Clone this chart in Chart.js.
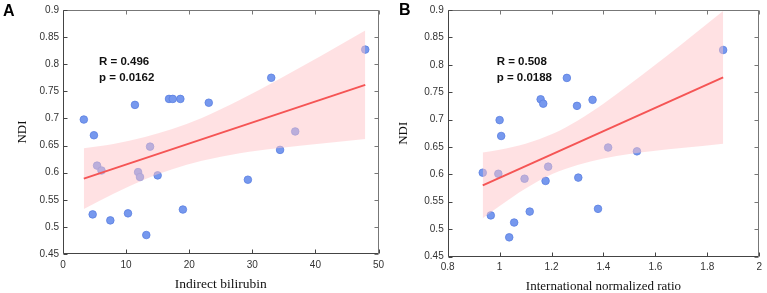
<!DOCTYPE html>
<html>
<head>
<meta charset="utf-8">
<script src="https://cdn.jsdelivr.net/npm/chart.js"></script>
<style>
html, body { margin: 0; padding: 0; background: #fff; overflow: hidden; }
#chartA { position: absolute; left: 0; top: 0; }
#chartB { position: absolute; left: 380px; top: 0; }
</style>
</head>
<body>
<canvas id="chartA" width="390" height="293"></canvas>
<canvas id="chartB" width="387" height="293"></canvas>
<script>
// panel A: indirect bilirubin vs NDI
const bilirubin = [3.3, 4.7, 4.9, 5.4, 6.1, 7.5, 10.3, 11.4, 11.9, 12.2, 13.2, 13.8, 15.0, 16.8, 17.4, 18.6, 19.0, 23.1, 29.3, 33.0, 34.4, 36.8, 47.9];
const ndiA = [0.698, 0.523, 0.669, 0.613, 0.604, 0.512, 0.525, 0.725, 0.601, 0.592, 0.485, 0.648, 0.595, 0.736, 0.736, 0.736, 0.532, 0.729, 0.587, 0.775, 0.642, 0.676, 0.827];
const fitA_x = [3.3, 47.9];
const fitA_y = [0.589, 0.762];
const bandA_x = [3.3, 8, 13, 17.2, 22, 28, 34, 41, 47.9];
const bandA_hi = [0.645, 0.653, 0.666, 0.680, 0.701, 0.734, 0.771, 0.816, 0.862];
const bandA_lo = [0.533, 0.561, 0.588, 0.606, 0.622, 0.636, 0.645, 0.654, 0.662];

// panel B: INR vs NDI
const inr = [0.935, 0.966, 0.995, 1.000, 1.006, 1.037, 1.056, 1.096, 1.116, 1.158, 1.168, 1.177, 1.187, 1.259, 1.298, 1.303, 1.358, 1.379, 1.418, 1.529, 1.861];
const ndiB = [0.603, 0.525, 0.601, 0.699, 0.670, 0.485, 0.512, 0.592, 0.532, 0.737, 0.729, 0.588, 0.614, 0.776, 0.725, 0.594, 0.736, 0.537, 0.649, 0.642, 0.827];
const fitB_x = [0.935, 1.861];
const fitB_y = [0.580, 0.777];
const bandB_x = [0.935, 1.0, 1.1, 1.205, 1.3, 1.4, 1.5, 1.6, 1.7, 1.861];
const bandB_hi = [0.640, 0.645, 0.656, 0.674, 0.698, 0.729, 0.764, 0.800, 0.837, 0.898];
const bandB_lo = [0.520, 0.542, 0.574, 0.601, 0.617, 0.629, 0.637, 0.643, 0.648, 0.656];

const pts = (xs, ys) => xs.map((v, i) => ({x: v, y: ys[i]}));
const fmt = v => String(+v.toFixed(2));

// matlab style box with inward ticks + text labels
const boxPlugin = {
    id: 'box',
    afterDraw(chart, args, o) {
        const {ctx, chartArea: a, scales: {x, y}} = chart;
        const L = Math.round(a.left) + 0.5, R = Math.round(a.right) - 0.5;
        const T = Math.round(a.top) + 0.5, B = Math.round(a.bottom) - 0.5;
        ctx.save();
        ctx.lineWidth = 1;
        ctx.strokeStyle = '#777';
        ctx.beginPath();
        ctx.moveTo(L, T); ctx.lineTo(R, T); ctx.lineTo(R, B);
        x.ticks.forEach(t => {
            const px = Math.round(x.getPixelForValue(t.value)) + 0.5;
            ctx.moveTo(px, T); ctx.lineTo(px, T + 4);
        });
        y.ticks.forEach(t => {
            const py = Math.round(y.getPixelForValue(t.value)) + 0.5;
            ctx.moveTo(R, py); ctx.lineTo(R - 4, py);
        });
        ctx.stroke();
        ctx.strokeStyle = '#444';
        ctx.beginPath();
        ctx.moveTo(L, T); ctx.lineTo(L, B); ctx.lineTo(R, B);
        x.ticks.forEach(t => {
            const px = Math.round(x.getPixelForValue(t.value)) + 0.5;
            ctx.moveTo(px, B); ctx.lineTo(px, B - 4);
        });
        y.ticks.forEach(t => {
            const py = Math.round(y.getPixelForValue(t.value)) + 0.5;
            ctx.moveTo(L, py); ctx.lineTo(L + 4, py);
        });
        ctx.stroke();

        ctx.fillStyle = '#000';
        ctx.textBaseline = 'middle';
        ctx.font = 'bold 16px "Liberation Sans", Arial, sans-serif';
        ctx.fillText(o.letter, o.letterX, o.letterY);
        ctx.fillStyle = '#111';
        ctx.font = 'bold 11.5px "Liberation Sans", Arial, sans-serif';
        ctx.fillText(o.stats[0], a.left + o.statsX, a.top + o.statsY);
        ctx.fillText(o.stats[1], a.left + o.statsX, a.top + o.statsY + 16);
        ctx.restore();
    }
};

function makeChart(id, c) {
    return new Chart(document.getElementById(id), {
        type: 'scatter',
        data: {
            datasets: [{
                data: pts(c.xs, c.ys),
                backgroundColor: 'rgb(118, 152, 238)',
                borderColor: 'rgb(92, 128, 225)',
                borderWidth: 0.8,
                pointRadius: 3.8,
                order: 3
            }, {
                data: pts(c.bandX, c.bandHi),
                showLine: true,
                borderColor: 'rgba(0,0,0,0)',
                pointRadius: 0,
                cubicInterpolationMode: 'monotone',
                fill: false,
                order: 2
            }, {
                data: pts(c.bandX, c.bandLo),
                showLine: true,
                borderColor: 'rgba(0,0,0,0)',
                backgroundColor: 'rgba(255, 195, 200, 0.5)',
                pointRadius: 0,
                cubicInterpolationMode: 'monotone',
                fill: '-1',
                order: 2
            }, {
                data: pts(c.fitX, c.fitY),
                showLine: true,
                borderColor: 'rgb(245, 85, 85)',
                borderWidth: 2,
                pointRadius: 0,
                fill: false,
                order: 1
            }]
        },
        options: {
            responsive: false,
            animation: false,
            layout: {padding: {left: 0, top: c.top, right: c.right, bottom: 0}},
            plugins: {
                legend: {display: false},
                tooltip: {enabled: false},
                box: c.text
            },
            scales: {
                x: {
                    type: 'linear', min: c.xMin, max: c.xMax,
                    grid: {display: false, drawTicks: false},
                    border: {display: false},
                    ticks: {stepSize: c.xStep, padding: 5, color: '#333', maxRotation: 0,
                            font: {family: '"Liberation Sans", Arial, sans-serif', size: 10}, callback: fmt},
                    title: {display: true, text: c.xTitle, color: '#111',
                            font: {family: '"Liberation Serif", "Times New Roman", serif', size: c.titleSize, lineHeight: 1},
                            padding: {top: 0, bottom: c.xTitlePad}},
                    afterFit: s => { s.height = c.xh; }
                },
                y: {
                    min: 0.45, max: 0.9,
                    grid: {display: false, drawTicks: false},
                    border: {display: false},
                    ticks: {stepSize: 0.05, padding: 4, color: '#333',
                            font: {family: '"Liberation Sans", Arial, sans-serif', size: 10}, callback: fmt},
                    title: {display: true, text: 'NDI', color: '#111',
                            font: {family: '"Liberation Serif", "Times New Roman", serif', size: 13, lineHeight: 1},
                            padding: {top: c.yTitlePad, bottom: 0}},
                    afterFit: s => { s.width = c.yw; }
                }
            }
        },
        plugins: [boxPlugin]
    });
}

makeChart('chartA', {
    xs: bilirubin, ys: ndiA, fitX: fitA_x, fitY: fitA_y,
    bandX: bandA_x, bandHi: bandA_hi, bandLo: bandA_lo,
    xMin: 0, xMax: 50, xStep: 10, xTitle: 'Indirect bilirubin', titleSize: 13.5,
    top: 6, right: 11.5, xh: 39, yw: 63, xTitlePad: 2, yTitlePad: 16,
    text: {letter: 'A', letterX: 3, letterY: 12, stats: ['R = 0.496', 'p = 0.0162'], statsX: 36, statsY: 52}
});

makeChart('chartB', {
    xs: inr, ys: ndiB, fitX: fitB_x, fitY: fitB_y,
    bandX: bandB_x, bandHi: bandB_hi, bandLo: bandB_lo,
    xMin: 0.8, xMax: 2, xStep: 0.2, xTitle: 'International normalized ratio', titleSize: 13,
    top: 8, right: 4.7, xh: 36.5, yw: 67.7, xTitlePad: 0, yTitlePad: 17,
    text: {letter: 'B', letterX: 19, letterY: 11, stats: ['R = 0.508', 'p = 0.0188'], statsX: 49, statsY: 52}
});
</script>
</body>
</html>
